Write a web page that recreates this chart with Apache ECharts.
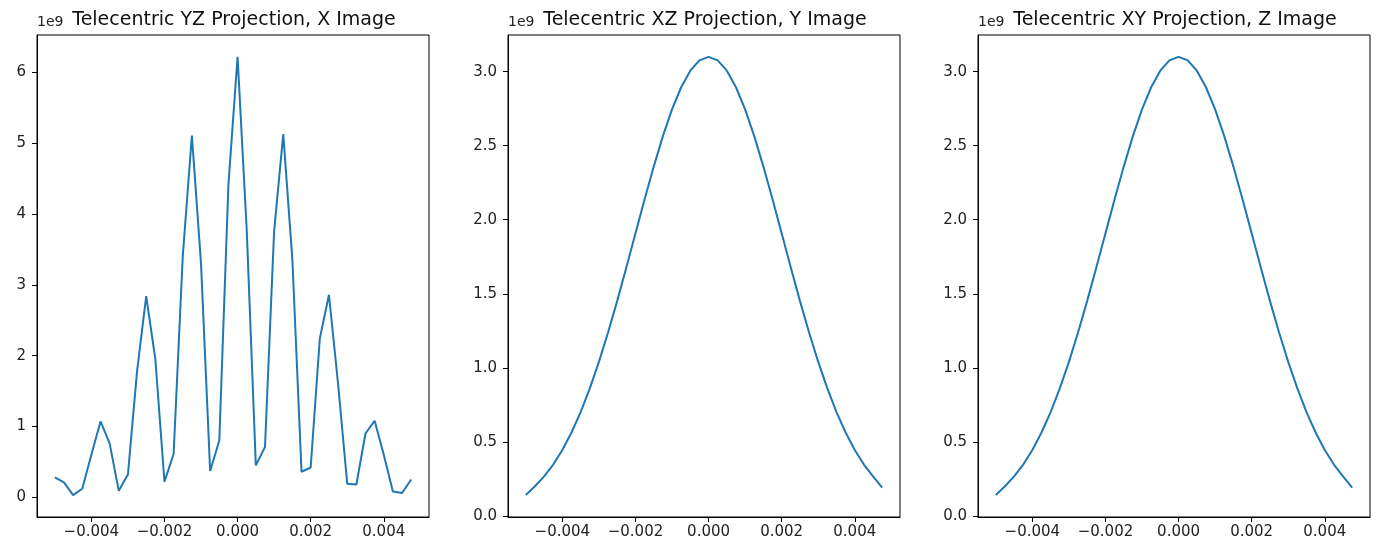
<!DOCTYPE html>
<html>
<head>
<meta charset="utf-8">
<script src="https://cdn.jsdelivr.net/npm/echarts@6/dist/echarts.min.js"></script>
<style>
html,body{margin:0;padding:0;background:#fff;}
#chart{width:1383px;height:547px;}
</style>
</head>
<body>
<div id="chart"></div>
<script>
// Sample positions (shared by all three panels)
const xPositions = [
  -0.005, -0.00475, -0.0045, -0.00425, -0.004, -0.00375, -0.0035, -0.00325,
  -0.003, -0.00275, -0.0025, -0.00225, -0.002, -0.00175, -0.0015, -0.00125,
  -0.001, -0.00075, -0.0005, -0.00025, 0, 0.00025, 0.0005, 0.00075,
  0.001, 0.00125, 0.0015, 0.00175, 0.002, 0.00225, 0.0025, 0.00275,
  0.003, 0.00325, 0.0035, 0.00375, 0.004, 0.00425, 0.0045, 0.00475
];
// Values in units of 1e9
const xImage = [
  0.28, 0.21, 0.03, 0.12, 0.60, 1.07, 0.76, 0.09,
  0.32, 1.78, 2.84, 1.95, 0.22, 0.61, 3.40, 5.11,
  3.30, 0.37, 0.80, 4.42, 6.22, 3.78, 0.45, 0.71,
  3.76, 5.13, 3.35, 0.36, 0.42, 2.24, 2.86, 1.60,
  0.19, 0.18, 0.90, 1.08, 0.60, 0.08, 0.06, 0.25
];
const yImage = [
  0.140, 0.200, 0.266, 0.346, 0.445, 0.563, 0.701, 0.861,
  1.040, 1.238, 1.452, 1.677, 1.908, 2.138, 2.359, 2.565,
  2.746, 2.895, 3.007, 3.077, 3.100, 3.077, 3.007, 2.895,
  2.746, 2.565, 2.359, 2.138, 1.908, 1.677, 1.452, 1.238,
  1.040, 0.861, 0.701, 0.563, 0.445, 0.346, 0.266, 0.190
];
const zImage = [
  0.140, 0.200, 0.266, 0.346, 0.445, 0.563, 0.701, 0.861,
  1.040, 1.238, 1.452, 1.677, 1.908, 2.138, 2.359, 2.565,
  2.746, 2.895, 3.007, 3.077, 3.100, 3.077, 3.007, 2.895,
  2.746, 2.565, 2.359, 2.138, 1.908, 1.677, 1.452, 1.238,
  1.040, 0.861, 0.701, 0.563, 0.445, 0.346, 0.266, 0.190
];
const titles = [
  'Telecentric YZ Projection, X Image',
  'Telecentric XZ Projection, Y Image',
  'Telecentric XY Projection, Z Image'
];
const offsetLabel = '1e9';
const xTicks = [-0.004, -0.002, 0, 0.002, 0.004];
const yTicksX = [0, 1, 2, 3, 4, 5, 6];
const yTicksYZ = [0, 0.5, 1.0, 1.5, 2.0, 2.5, 3.0];

const panels = [
  {data: xImage, yTicks: yTicksX, digits: 0, left: 37},
  {data: yImage, yTicks: yTicksYZ, digits: 1, left: 508},
  {data: zImage, yTicks: yTicksYZ, digits: 1, left: 978}
];
const TOP = 35, HEIGHT = 482, WIDTH = 392;
const FONT = 'DejaVu Sans';

function fmtX(v) {
  if (Math.abs(v) < 1e-12) return '0.000';
  return (v < 0 ? '\u2212' : '') + Math.abs(v).toFixed(3);
}
function margins(arr) {
  const mn = Math.min(...arr), mx = Math.max(...arr);
  const pad = (mx - mn) * 0.05;
  return [mn - pad, mx + pad];
}

const [xMin, xMax] = margins(xPositions);
const grids = [], xAxes = [], yAxes = [], series = [], title = [], graphics = [];

panels.forEach((p, i) => {
  const [yMin, yMax] = margins(p.data);
  grids.push({
    left: p.left, top: TOP, width: WIDTH, height: HEIGHT,
    show: true, borderColor: '#000', borderWidth: 1, backgroundColor: '#fff',
    containLabel: false, outerBoundsMode: 'none'
  });
  xAxes.push({
    type: 'value', gridIndex: i, min: xMin, max: xMax,
    axisLine: {show: true, onZero: false, lineStyle: {color: '#000', width: 1}},
    axisTick: {show: true, length: 5, customValues: xTicks, lineStyle: {color: '#000', width: 1}},
    axisLabel: {customValues: xTicks, formatter: fmtX, color: '#222', fontFamily: FONT, fontSize: 15, margin: 8},
    splitLine: {show: false}
  });
  yAxes.push({
    type: 'value', gridIndex: i, min: yMin, max: yMax,
    axisLine: {show: true, onZero: false, lineStyle: {color: '#000', width: 1}},
    axisTick: {show: true, length: 5, customValues: p.yTicks, lineStyle: {color: '#000', width: 1}},
    axisLabel: {customValues: p.yTicks, formatter: v => v.toFixed(p.digits), color: '#222', fontFamily: FONT, fontSize: 15, margin: 11},
    splitLine: {show: false}
  });
  series.push({
    type: 'line', xAxisIndex: i, yAxisIndex: i,
    data: xPositions.map((x, k) => [x, p.data[k]]),
    showSymbol: false, symbol: 'none',
    lineStyle: {color: '#1f77b4', width: 2},
    animation: false
  });
  title.push({
    text: titles[i], left: p.left + WIDTH / 2 - 4, top: 6, textAlign: 'center',
    textStyle: {fontFamily: FONT, fontSize: 19, fontWeight: 'normal', color: '#111'}
  });
  graphics.push({
    type: 'text', left: p.left, top: 15,
    style: {text: offsetLabel, fontFamily: FONT, fontSize: 14, fill: '#222'}
  });
});

const chart = echarts.init(document.getElementById('chart'), null, {renderer: 'canvas'});
chart.setOption({
  backgroundColor: '#fff',
  animation: false,
  title: title,
  grid: grids,
  xAxis: xAxes,
  yAxis: yAxes,
  series: series,
  graphic: graphics
});
</script>
</body>
</html>
